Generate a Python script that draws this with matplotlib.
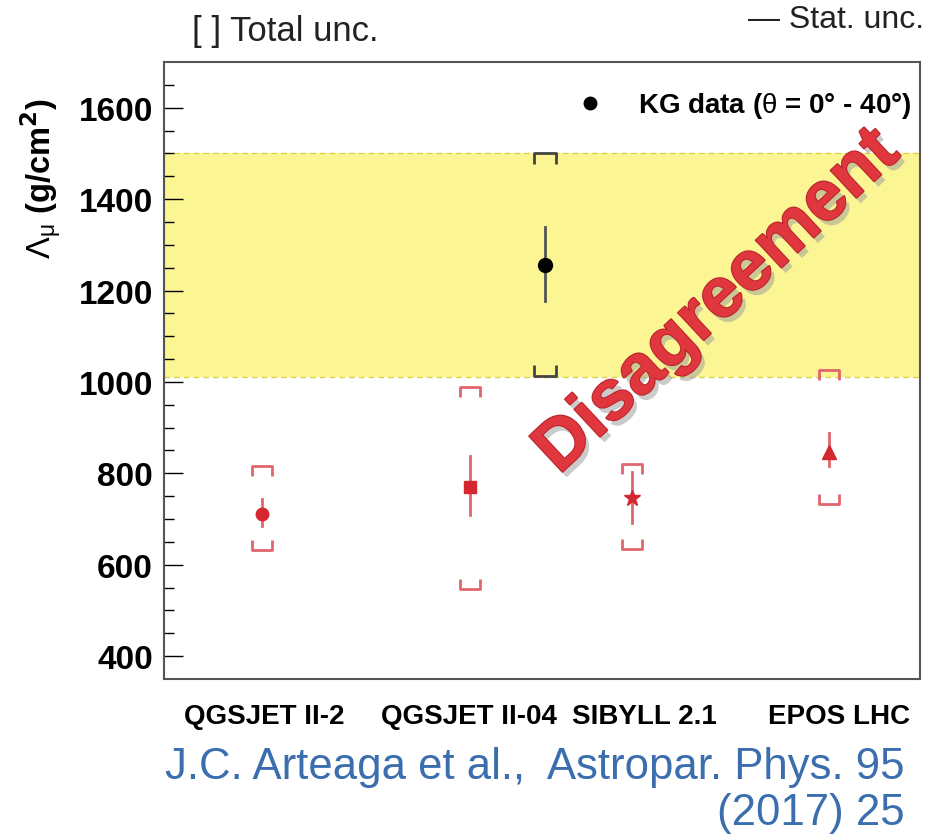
import matplotlib
matplotlib.use("Agg")
import matplotlib.pyplot as plt
import matplotlib.patheffects as pe
from matplotlib.path import Path
from matplotlib.lines import Line2D

plt.rcParams['font.family'] = ['Liberation Sans', 'DejaVu Sans']
plt.rcParams['mathtext.fontset'] = 'custom'
plt.rcParams['mathtext.rm'] = 'Liberation Sans'
plt.rcParams['mathtext.it'] = 'Liberation Sans'

# models (red) and KASCADE-Grande data (black)
models = ["QGSJET II-2", "QGSJET II-04", "SIBYLL 2.1", "EPOS LHC"]
model_x = [0.13, 0.405, 0.619, 0.88]
model_label_x = [0.132, 0.403, 0.636, 0.893]
model_val = [710, 770, 745, 846]
model_stat_lo = [684, 709, 691, 815]
model_stat_hi = [743, 837, 802, 889]
model_tot_lo = [633, 546, 635, 733]
model_tot_hi = [817, 989, 820, 1026]
model_marker = ["o", "s", "*", "^"]
model_msize = [9, 8, 12, 10]

kg_x = 0.504
kg_val = 1256
kg_stat = (1176, 1339)
kg_tot = (1013, 1500)
band = (1010, 1500)

fig = plt.figure(figsize=(9.29, 8.37), dpi=100)
ax = fig.add_axes([0.1765, 0.1876, 0.8138, 0.7371])
ax.set_xlim(0, 1)
ax.set_ylim(350, 1700)

# yellow band
ax.axhspan(band[0], band[1], color="#fbf693", zorder=0, lw=0)
for b in band:
    ax.axhline(b, color="#d9d24a", ls=(0, (4, 3)), lw=1, zorder=1)

top_br = Path([(-1, -1), (-1, 0), (1, 0), (1, -1)], [Path.MOVETO, Path.LINETO, Path.LINETO, Path.LINETO])
bot_br = Path([(-1, 1), (-1, 0), (1, 0), (1, 1)], [Path.MOVETO, Path.LINETO, Path.LINETO, Path.LINETO])

red = "#d4272f"
red_light = "#e0666c"
for i in range(len(models)):
    x = model_x[i]
    ax.plot([x, x], [model_stat_lo[i], model_stat_hi[i]], color=red_light, lw=2, zorder=3)
    ax.plot(x, model_val[i], marker=model_marker[i], color=red, ms=model_msize[i],
            mec=red, zorder=4)
    ax.plot(x, model_tot_hi[i], marker=top_br, ms=15, mfc="none", mec=red_light, mew=2, zorder=3)
    ax.plot(x, model_tot_lo[i], marker=bot_br, ms=15, mfc="none", mec=red_light, mew=2, zorder=3)

ax.plot([kg_x, kg_x], kg_stat, color="#555555", lw=2, zorder=3)
ax.plot(kg_x, kg_val, "o", color="black", ms=10, zorder=4)
ax.plot(kg_x, kg_tot[1], marker=top_br, ms=16, mfc="none", mec="#444444", mew=2, zorder=3)
ax.plot(kg_x, kg_tot[0], marker=bot_br, ms=16, mfc="none", mec="#444444", mew=2, zorder=3)

# legend
h = Line2D([], [], marker="o", color="black", ls="none", ms=9)
ax.legend([h], [r"KG data ($\theta$ = 0° - 40°)"], loc="upper right", frameon=False,
          prop={"weight": "bold", "size": 20}, handletextpad=0.7, borderaxespad=0.0,
          bbox_to_anchor=(1.003, 0.972))

# axes styling
ax.set_yticks(range(400, 1700, 200))
ax.set_yticks(range(400, 1700, 50), minor=True)
ax.set_yticklabels([str(v) for v in range(400, 1700, 200)], fontsize=24, fontweight="bold")
ax.tick_params(axis="y", which="major", direction="in", length=14, width=1, pad=8)
ax.tick_params(axis="y", which="minor", direction="in", length=7, width=1)
ax.set_xticks([])
for s in ax.spines.values():
    s.set_color("#555555")
    s.set_linewidth(1.5)

for i, m in enumerate(models):
    ax.text(model_label_x[i], -0.06, m, transform=ax.transAxes, ha="center", va="center",
            fontsize=20, fontweight="bold")

fig.text(0.045, 0.787, r"$\Lambda_{\mu}$ (g/cm$^{\mathbf{2}}$)", rotation=90, ha="center", va="center",
         fontsize=23.5, fontweight="bold")

ax.text(0.733, 0.611, "Disagreement", transform=ax.transAxes, rotation=43,
        ha="center", va="center", fontsize=51, fontweight="bold", color="#e0363e", zorder=6,
        path_effects=[pe.withSimplePatchShadow(offset=(3, -4), shadow_rgbFace="#999999", alpha=0.5),
                      pe.Stroke(linewidth=1.5, foreground="#b8242b"), pe.Normal()])

fig.text(0.207, 0.962, "[ ] Total unc.", fontsize=25, ha="left", va="center", color="#222222")
fig.text(0.995, 0.976, "— Stat. unc.", fontsize=23, ha="right", va="center", color="#222222")

blue = "#3b6eae"
fig.text(0.974, 0.083, "J.C. Arteaga et al.,  Astropar. Phys. 95", fontsize=31.5, ha="right",
         va="center", color=blue)
fig.text(0.974, 0.028, "(2017) 25", fontsize=31.5, ha="right", va="center", color=blue)

fig.savefig("out.png", dpi=100)
